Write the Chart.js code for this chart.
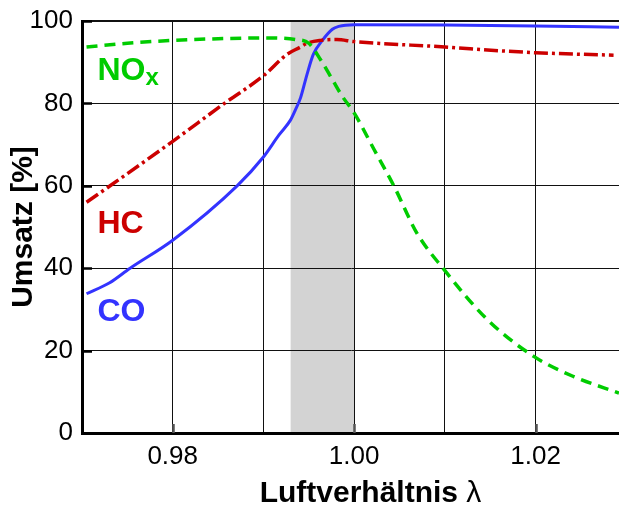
<!DOCTYPE html>
<html>
<head>
<meta charset="utf-8">
<script src="https://cdn.jsdelivr.net/npm/chart.js@4.4.0/dist/chart.umd.min.js"></script>
<style>
  html, body { margin: 0; padding: 0; background: #fff; }
  #wrap { width: 619px; height: 506px; }
</style>
</head>
<body>
<div id="wrap"><canvas id="umsatz"></canvas></div>
<script>
// Umsatz vs. Luftverhältnis (lambda)
const coLambda = [0.9705, 0.9730, 0.9753, 0.9800, 0.9871, 0.9900, 0.9917, 0.9930, 0.9935, 0.9941, 0.9948, 0.9955, 0.9965, 0.9976, 0.9983, 1.0000, 1.0100, 1.0200, 1.0292]
const coValues = [33.8, 36.4, 40.0, 46.8, 60.0, 67.0, 72.3, 76.0, 78.3, 81.4, 87.0, 91.9, 95.3, 98.0, 98.7, 99.1, 99.0, 98.8, 98.5]

const hcLambda = [0.9705, 0.9731, 0.9800, 0.9857, 0.9900, 0.9926, 0.9941, 0.9948, 0.9963, 0.9981, 1.0000, 1.0100, 1.0159, 1.0200, 1.0286]
const hcValues = [56.0, 60.0, 70.8, 80.0, 86.7, 91.9, 93.7, 94.6, 95.3, 95.5, 95.0, 93.7, 92.8, 92.3, 91.7]

const noxLambda = [0.9705, 0.9750, 0.9800, 0.9850, 0.9900, 0.9936, 0.9950, 0.9963, 0.9976, 0.9987, 1.0000, 1.0022, 1.0044, 1.0069, 1.0099, 1.0147, 1.0198, 1.0242, 1.0292]
const noxValues = [93.7, 94.6, 95.3, 95.7, 95.9, 95.5, 94.6, 90.6, 85.8, 81.7, 77.7, 68.8, 59.9, 48.6, 39.7, 27.5, 18.6, 13.7, 9.7]

const xTicks = [0.98, 0.99, 1.00, 1.01, 1.02]
const xLabelled = [0.98, 1.00, 1.02]
const yTicks = [0, 20, 40, 60, 80, 100]

// lambda window (grey band)
const windowRange = [0.993, 1.000]

// curve names, placed in data coordinates [lambda, value]
const curveLabels = [
  { text: 'NO', sub: 'x', at: [0.9717, 85.8], color: '#00cc00' },
  { text: 'HC', sub: '', at: [0.9717, 48.6], color: '#cc0000' },
  { text: 'CO', sub: '', at: [0.9717, 27.2], color: '#3333ff' },
]

const FONT = "'Liberation Sans', Arial, Helvetica, sans-serif"

function toPoints(xs, ys) {
  return xs.map((x, i) => ({ x: x, y: ys[i] }))
}

const bandPlugin = {
  id: 'band',
  beforeDraw(chart) {
    const { ctx, chartArea, scales } = chart
    const x0 = scales.x.getPixelForValue(windowRange[0])
    const x1 = scales.x.getPixelForValue(windowRange[1])
    ctx.save()
    ctx.fillStyle = '#d3d3d3'
    ctx.fillRect(x0, chartArea.top, x1 - x0, chartArea.bottom - chartArea.top)
    ctx.restore()
  }
}

const labelPlugin = {
  id: 'curveLabels',
  afterDatasetsDraw(chart) {
    const { ctx, scales, chartArea } = chart
    ctx.save()

    // inner tick marks
    ctx.strokeStyle = '#000'
    ctx.lineWidth = 2.5
    yTicks.forEach(v => {
      const py = Math.round(scales.y.getPixelForValue(v)) + 0.5
      ctx.beginPath()
      ctx.moveTo(chartArea.left, py)
      ctx.lineTo(chartArea.left + 10, py)
      ctx.stroke()
    })
    ctx.strokeStyle = '#555'
    xLabelled.forEach(v => {
      const px = Math.round(scales.x.getPixelForValue(v)) + 0.5
      ctx.beginPath()
      ctx.moveTo(px, chartArea.bottom)
      ctx.lineTo(px, chartArea.bottom - 9)
      ctx.stroke()
    })

    // curve names
    ctx.textAlign = 'left'
    ctx.textBaseline = 'alphabetic'
    curveLabels.forEach(l => {
      const px = scales.x.getPixelForValue(l.at[0])
      const py = scales.y.getPixelForValue(l.at[1])
      ctx.fillStyle = l.color
      ctx.font = 'bold 32px ' + FONT
      ctx.fillText(l.text, px, py)
      if (l.sub) {
        const w = ctx.measureText(l.text).width
        ctx.font = 'bold 24px ' + FONT
        ctx.fillText(l.sub, px + w, py + 5)
      }
    })

    // x axis title: bold word, plain lambda
    const word = 'Luftverhältnis '
    const sym = 'λ'
    ctx.fillStyle = '#000'
    ctx.font = 'bold 30px ' + FONT
    const w1 = ctx.measureText(word).width
    ctx.font = '30px ' + FONT
    const w2 = ctx.measureText(sym).width
    const cx = (chartArea.left + chartArea.right) / 2 + 20
    const x0 = cx - (w1 + w2) / 2
    ctx.font = 'bold 30px ' + FONT
    ctx.fillText(word, x0, 502)
    ctx.font = '30px ' + FONT
    ctx.fillText(sym, x0 + w1, 502)

    ctx.restore()
  }
}

new Chart(document.getElementById('umsatz'), {
  type: 'line',
  data: {
    datasets: [
      {
        label: 'NOx',
        data: toPoints(noxLambda, noxValues),
        borderColor: '#00cc00',
        borderWidth: 3.5,
        borderDash: [11, 7],
        cubicInterpolationMode: 'monotone',
        pointRadius: 0
      },
      {
        label: 'HC',
        data: toPoints(hcLambda, hcValues),
        borderColor: '#cc0000',
        borderWidth: 3.5,
        borderDash: [14, 4, 3, 4],
        cubicInterpolationMode: 'monotone',
        pointRadius: 0
      },
      {
        label: 'CO',
        data: toPoints(coLambda, coValues),
        borderColor: '#3333ff',
        borderWidth: 3,
        cubicInterpolationMode: 'monotone',
        pointRadius: 0
      }
    ]
  },
  options: {
    responsive: true,
    maintainAspectRatio: false,
    animation: false,
    layout: { padding: { top: 21, right: 0, left: 0, bottom: 0 } },
    plugins: {
      legend: { display: false },
      tooltip: { enabled: false }
    },
    scales: {
      x: {
        type: 'linear',
        min: 0.97,
        max: 1.0292,
        afterBuildTicks: s => { s.ticks = xTicks.map(v => ({ value: v })) },
        afterFit: s => { s.height = 73; s.paddingLeft = 0; s.paddingRight = 0 },
        ticks: {
          autoSkip: false,
          maxRotation: 0,
          padding: 8,
          color: '#000',
          font: { family: FONT, size: 26 },
          callback: v => xLabelled.some(t => Math.abs(t - v) < 1e-6) ? v.toFixed(2) : ''
        },
        grid: { color: '#111', lineWidth: 1, drawTicks: false },
        border: { color: '#000', width: 3 },
        title: { display: false }
      },
      y: {
        min: 0,
        max: 100,
        afterBuildTicks: s => { s.ticks = yTicks.map(v => ({ value: v })) },
        afterFit: s => { s.width = 82; s.paddingTop = 0; s.paddingBottom = 0 },
        ticks: {
          padding: 9,
          color: '#000',
          font: { family: FONT, size: 26 }
        },
        grid: {
          color: '#111',
          lineWidth: c => c.tick && c.tick.value === 100 ? 2 : 1,
          drawTicks: false
        },
        border: { color: '#000', width: 3 },
        title: {
          display: true,
          text: 'Umsatz [%]',
          color: '#000',
          font: { family: FONT, size: 30, weight: 'bold', lineHeight: 1 },
          padding: { top: 9, bottom: 0 }
        }
      }
    }
  },
  plugins: [bandPlugin, labelPlugin]
})
</script>
</body>
</html>
